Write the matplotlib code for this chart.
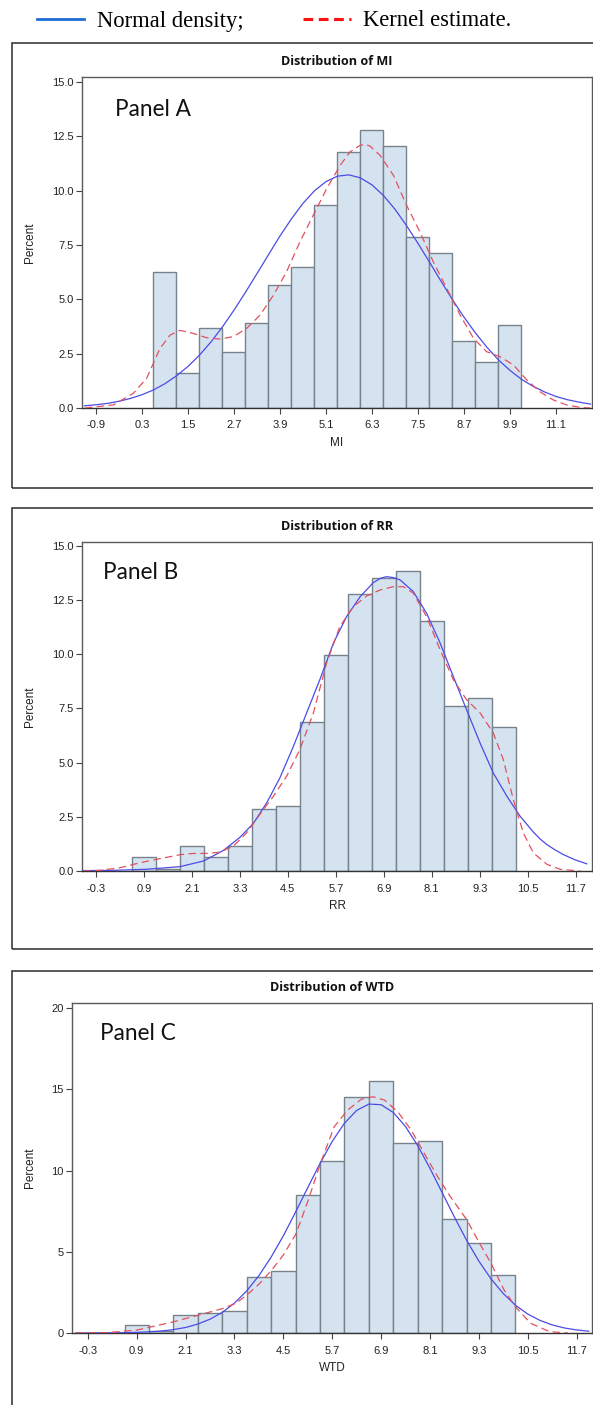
import matplotlib
matplotlib.use("Agg")
import matplotlib.pyplot as plt
from matplotlib.lines import Line2D
from matplotlib.patches import Rectangle

W, H = 593, 1405

# histogram bins (percent of subjects per 0.6-wide bin)
bin_mid = [0.9, 1.5, 2.1, 2.7, 3.3, 3.9, 4.5, 5.1, 5.7, 6.3, 6.9, 7.5, 8.1, 8.7, 9.3, 9.9]
pct_mi = [6.25, 1.59, 3.68, 2.57, 3.92, 5.64, 6.49, 9.33, 11.79, 12.77, 12.04, 7.84, 7.11, 3.06, 2.10, 3.80]
pct_rr = [0.64, 0.10, 1.13, 0.66, 1.13, 2.87, 2.98, 6.89, 9.95, 12.76, 13.50, 13.85, 11.53, 7.62, 7.99, 6.64]
pct_wtd = [0.47, 0.12, 1.09, 1.21, 1.33, 3.43, 3.80, 8.47, 10.58, 14.54, 15.50, 11.71, 11.82, 7.00, 5.52, 3.55]

# fitted curves
mi_norm_x = [-1.2, -0.9, -0.6, -0.3, 0.0, 0.3, 0.6, 0.9, 1.2, 1.5, 1.8, 2.1,
             2.4, 2.7, 3.0, 3.3, 3.6, 3.9, 4.2, 4.5, 4.8, 5.1, 5.4, 5.7,
             6.0, 6.3, 6.6, 6.9, 7.2, 7.5, 7.8, 8.1, 8.4, 8.7, 9.0, 9.3,
             9.6, 9.9, 10.2, 10.5, 10.8, 11.1, 11.4, 11.7, 12.0]
mi_norm_y = [0.10, 0.15, 0.21, 0.31, 0.44, 0.61, 0.83, 1.12, 1.48, 1.91, 2.43, 3.04,
             3.73, 4.50, 5.32, 6.18, 7.05, 7.91, 8.70, 9.41, 9.99, 10.41, 10.66, 10.72,
             10.58, 10.26, 9.77, 9.14, 8.39, 7.57, 6.71, 5.83, 4.98, 4.18, 3.45, 2.79,
             2.21, 1.73, 1.32, 1.00, 0.74, 0.53, 0.38, 0.27, 0.18]
mi_kern_x = [-1.19, -0.45, 0.07, 0.42, 0.77, 1.03, 1.29, 1.64, 1.99, 2.33, 2.68, 3.03,
             3.38, 3.73, 4.07, 4.42, 4.77, 5.12, 5.47, 5.73, 5.99, 6.12, 6.25, 6.51, 6.86,
             7.2, 7.55, 7.9, 8.25, 8.6, 8.95, 9.29, 9.64, 9.99, 10.34, 10.68, 11.03,
             11.38, 11.73, 11.99]
mi_kern_y = [0.0, 0.14, 0.67, 1.36, 2.74, 3.35, 3.57, 3.43, 3.23, 3.17, 3.28, 3.66,
             4.27, 5.19, 6.26, 7.64, 8.87, 10.09, 11.16, 11.78, 12.08, 12.12, 12.04, 11.62, 10.7,
             9.33, 8.1, 6.72, 5.5, 4.27, 3.2, 2.59, 2.36, 1.98, 1.29, 0.75, 0.37,
             0.14, 0.03, 0.0]

rr_norm_x = [-0.62, 0.13, 0.97, 1.8, 2.39, 2.89, 3.3, 3.64, 3.97, 4.3, 4.64, 4.97,
             5.3, 5.64, 5.97, 6.31, 6.64, 6.82, 6.97, 7.14, 7.31, 7.64, 7.97, 8.31, 8.64, 8.97,
             9.31, 9.64, 9.98, 10.31, 10.64, 10.81, 10.98, 11.18, 11.39, 11.68, 11.98]
rr_norm_y = [0.02, 0.03, 0.08, 0.2, 0.46, 0.95, 1.55, 2.2, 3.14, 4.29, 5.75, 7.29,
             8.82, 10.51, 11.73, 12.65, 13.3, 13.5, 13.57, 13.53, 13.42, 12.88, 11.89, 10.51, 8.97, 7.44,
             5.9, 4.52, 3.45, 2.53, 1.80, 1.48, 1.22, 0.98, 0.76, 0.52, 0.33]
rr_kern_x = [-0.62, -0.2, 0.3, 0.8, 1.3, 1.8, 2.14, 2.47, 2.8, 3.14, 3.47, 3.8,
             4.14, 4.47, 4.8, 5.14, 5.47, 5.8, 6.14, 6.47, 6.81, 7.14, 7.39, 7.64,
             7.97, 8.31, 8.64, 8.97, 9.31, 9.64, 9.89, 10.14, 10.39, 10.64, 10.98, 11.31,
             11.81]
rr_kern_y = [0.0, 0.03, 0.15, 0.38, 0.57, 0.75, 0.81, 0.81, 0.87, 1.15, 1.76, 2.61,
             3.45, 4.37, 5.6, 7.29, 9.59, 11.27, 12.19, 12.68, 12.96, 13.11, 13.11, 12.81,
             11.73, 10.2, 8.82, 7.9, 7.29, 6.37, 5.14, 3.3, 1.76, 0.84, 0.31, 0.08,
             0.0]

wtd_norm_x = [-0.6, 0.0, 0.6, 0.9, 1.2, 1.5, 1.8, 2.1, 2.4, 2.7, 3.0, 3.3,
              3.6, 3.9, 4.2, 4.5, 4.8, 5.1, 5.4, 5.7, 6.0, 6.3, 6.6, 6.9,
              7.2, 7.5, 7.8, 8.1, 8.4, 8.7, 9.0, 9.3, 9.6, 9.9, 10.2, 10.5,
              10.8, 11.1, 11.4, 11.7, 12.0]
wtd_norm_y = [0.0, 0.01, 0.02, 0.04, 0.07, 0.12, 0.21, 0.34, 0.55, 0.85, 1.27, 1.84,
              2.59, 3.53, 4.67, 5.98, 7.44, 8.95, 10.43, 11.79, 12.91, 13.70, 14.09, 14.05,
              13.57, 12.71, 11.53, 10.14, 8.64, 7.14, 5.71, 4.43, 3.33, 2.43, 1.71, 1.17,
              0.78, 0.50, 0.31, 0.19, 0.11]
wtd_kern_x = [-0.58, 0.16, 0.9, 1.79, 2.4, 3.0, 3.32, 3.6, 3.9, 4.21, 4.5, 4.81, 5.1, 5.42,
              5.75, 6.08, 6.41, 6.7, 6.98, 7.31, 7.64, 7.96, 8.29, 8.6, 9.01, 9.3, 9.6,
              9.92, 10.2, 10.57, 11.04, 11.49]
wtd_kern_y = [0.0, 0.02, 0.18, 0.68, 1.09, 1.5, 1.81, 2.33, 3.0, 3.86, 4.8, 6.1, 8.1, 10.5,
              12.7, 13.72, 14.38, 14.54, 14.34, 13.62, 12.49, 11.06, 9.62, 8.4, 6.95, 5.6, 4.29,
              2.65, 1.62, 0.6, 0.08, 0.0]

BAR_FACE = "#d5e3f0"
BAR_EDGE = "#76838c"
NORM_COL = "#4b4be6"
KERN_COL = "#e4505e"


def px_rect(left, top, right, bottom):
    """figure-fraction rect from pixel box (y measured from top)"""
    return [left / W, 1 - bottom / H, (right - left) / W, (bottom - top) / H]


def draw_panel(fig, rect, frame, title, panel, xlabel, counts, norm, kern,
               xlim, ylim, xticks, yticks, yfmt, label_x):
    fig.add_artist(Rectangle((frame[0] / W, 1 - frame[3] / H),
                             (frame[2] - frame[0]) / W, (frame[3] - frame[1]) / H,
                             transform=fig.transFigure, fill=False,
                             ec="#2b2b2b", lw=1.1))
    ax = fig.add_axes(rect)
    ax.bar(bin_mid, counts, width=0.6, color=BAR_FACE, edgecolor=BAR_EDGE,
           linewidth=1.0, zorder=2)
    ax.plot(norm[0], norm[1], color=NORM_COL, lw=0.9, zorder=3)
    ax.plot(kern[0], kern[1], color=KERN_COL, lw=0.9, ls=(0, (6, 3.5)), zorder=4)
    ax.set_xlim(*xlim)
    ax.set_ylim(*ylim)
    ax.set_xticks(xticks)
    ax.set_xticklabels([f"{t:.1f}" for t in xticks])
    ax.set_yticks(yticks)
    ax.set_yticklabels([yfmt.format(t) for t in yticks])
    for s in ax.spines.values():
        s.set_color("#5a5a5a")
        s.set_linewidth(1.0)
    ax.spines["bottom"].set_color("#333333")
    ax.tick_params(length=4, width=0.8, color="#444444", labelsize=8,
                   labelcolor="#222222")
    ax.tick_params(axis="x", pad=5)
    ax.tick_params(axis="y", pad=2)
    for lab in ax.get_xticklabels() + ax.get_yticklabels():
        lab.set_family("Liberation Sans")

    ax.set_xlabel(xlabel, fontsize=8.5, family="Liberation Sans", color="#222222",
                  va="center")
    ax.xaxis.set_label_coords(0.5, -0.105)
    ax.set_ylabel("Percent", fontsize=8.5, family="Liberation Sans", color="#222222",
                  va="center")
    ax.yaxis.set_label_coords(label_x, 0.5)

    ax.text(0.5, 1.046, title, transform=ax.transAxes, ha="center", va="center",
            fontsize=9.1, fontweight="bold", family="Open Sans", color="#111111")
    ax.text(panel[1], panel[2], panel[0], transform=ax.transAxes, ha="left",
            va="baseline", fontsize=16.3, family="Lato", color="#111111")
    return ax


def main() -> None:
    fig = plt.figure(figsize=(W / 100, H / 100), dpi=100)
    fig.patch.set_facecolor("white")

    xt_mi = [-0.9 + 1.2 * i for i in range(11)]
    xt_rr = [-0.3 + 1.2 * i for i in range(11)]

    draw_panel(fig, px_rect(82, 77, 592, 408), (12, 43, 640, 488),
               "Distribution of MI", ("Panel A", 0.065, 0.882), "MI", pct_mi,
               (mi_norm_x, mi_norm_y), (mi_kern_x, mi_kern_y),
               (-1.265, 12.04), (0, 15.22), xt_mi,
               [0, 2.5, 5, 7.5, 10, 12.5, 15], "{:.1f}", -0.102)

    draw_panel(fig, px_rect(82, 542, 592, 871), (12, 508, 640, 949),
               "Distribution of RR", ("Panel B", 0.041, 0.888), "RR", pct_rr,
               (rr_norm_x, rr_norm_y), (rr_kern_x, rr_kern_y),
               (-0.65, 12.11), (0, 15.17), xt_rr,
               [0, 2.5, 5, 7.5, 10, 12.5, 15], "{:.1f}", -0.102)

    draw_panel(fig, px_rect(72, 1003, 592, 1333), (12, 971, 640, 1460),
               "Distribution of WTD", ("Panel C", 0.054, 0.888), "WTD", pct_wtd,
               (wtd_norm_x, wtd_norm_y), (wtd_kern_x, wtd_kern_y),
               (-0.69, 12.08), (0, 20.31), xt_rr,
               [0, 5, 10, 15, 20], "{:.0f}", -0.081)

    handles = [
        Line2D([], [], color="#1e6ed6", lw=2.0),
        Line2D([], [], color="#ff1010", lw=2.2, ls=(0, (3.2, 1.8))),
    ]
    fig.legend(handles, ["Normal density;", "Kernel estimate."], ncol=2,
               loc="center left", bbox_to_anchor=(36.7 / W, 1 - 21 / H),
               frameon=False, borderpad=0, borderaxespad=0,
               handlelength=2.1, handletextpad=0.55, columnspacing=2.65,
               prop={"family": "Liberation Serif", "size": 16.3})

    fig.savefig("out.png", dpi=100)
    plt.close(fig)


if __name__ == "__main__":
    main()
